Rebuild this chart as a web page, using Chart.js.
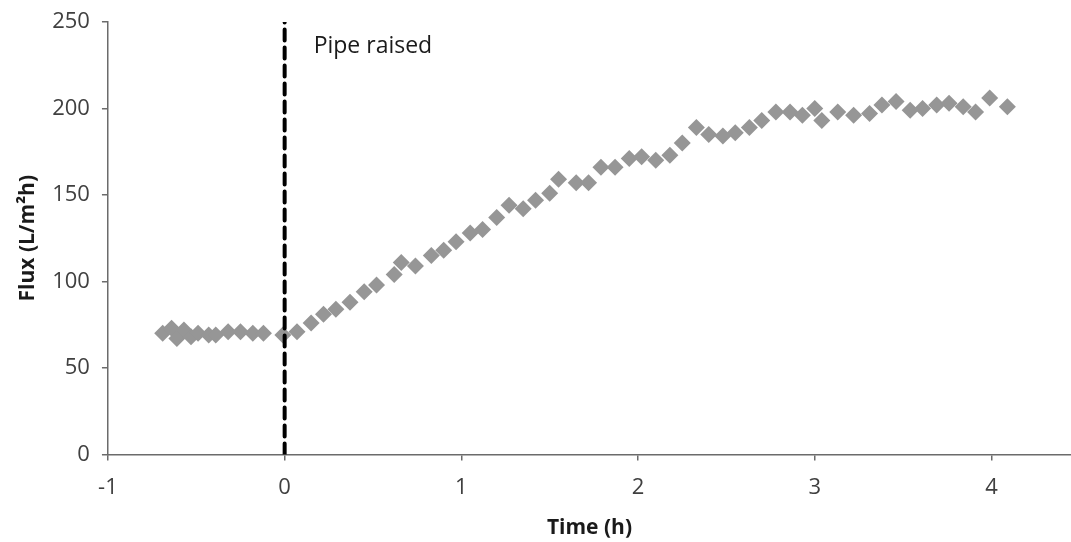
<!DOCTYPE html>
<html>
<head>
<meta charset="utf-8">
<script src="https://cdn.jsdelivr.net/npm/chart.js@4"></script>
<style>
  html, body { margin: 0; padding: 0; background: #fff; }
  #wrap { width: 1071px; height: 542px; }
</style>
</head>
<body>
<div id="wrap"><canvas id="fluxChart"></canvas></div>
<script>
// data
const timeH = [-0.69, -0.64, -0.61, -0.57, -0.53, -0.49, -0.43, -0.39, -0.32, -0.25, -0.18, -0.12, -0.01,
  0.07, 0.15, 0.22, 0.29, 0.37, 0.45, 0.52, 0.62, 0.66, 0.74, 0.83, 0.90, 0.97,
  1.05, 1.12, 1.20, 1.27, 1.35, 1.42, 1.50, 1.55, 1.65, 1.72, 1.79, 1.87, 1.95,
  2.02, 2.10, 2.18, 2.25, 2.33, 2.40, 2.48, 2.55, 2.63, 2.70, 2.78, 2.86, 2.93,
  3.00, 3.04, 3.13, 3.22, 3.31, 3.38, 3.46, 3.54, 3.61, 3.69, 3.76, 3.84, 3.91, 3.99, 4.09];
const fluxLmh = [70, 73, 67, 72, 68, 70, 69, 69, 71, 71, 70, 70, 69,
  71, 76, 81, 84, 88, 94, 98, 104, 111, 109, 115, 118, 123,
  128, 130, 137, 144, 142, 147, 151, 159, 157, 157, 166, 166, 171,
  172, 170, 173, 180, 189, 185, 184, 186, 189, 193, 198, 198, 196,
  200, 193, 198, 196, 197, 202, 204, 199, 200, 202, 203, 201, 198, 206, 201];

const pipeRaisedX = [0, 0];
const pipeRaisedY = [0, 250];
const pipeLabel = 'Pipe raised';

const xTicks = [-1, 0, 1, 2, 3, 4];
const yTicks = [0, 50, 100, 150, 200, 250];

const axisColor = '#6b6b6b';
const textColor = '#404040';
const font = "'Open Sans', 'Liberation Sans', sans-serif";

const labelPlugin = {
  id: 'pipeLabel',
  afterDatasetsDraw(chart) {
    const { ctx, scales } = chart;
    ctx.save();
    ctx.font = '23px ' + font;
    ctx.fillStyle = '#1a1a1a';
    ctx.textBaseline = 'middle';
    ctx.fillText(pipeLabel, scales.x.getPixelForValue(0) + 29, scales.y.getPixelForValue(236));
    ctx.restore();
  }
};

const ctx = document.getElementById('fluxChart').getContext('2d');
new Chart(ctx, {
  type: 'scatter',
  data: {
    datasets: [{
      label: 'Pipe raised',
      data: pipeRaisedX.map((x, i) => ({ x: x, y: pipeRaisedY[i] })),
      showLine: true,
      borderColor: '#000',
      borderWidth: 4,
      borderDash: [11, 7],
      borderCapStyle: 'round',
      pointRadius: 0,
      order: 0
    }, {
      label: 'Flux',
      data: timeH.map((t, i) => ({ x: t, y: fluxLmh[i] })),
      pointStyle: 'rectRot',
      pointRadius: 8.5,
      pointHoverRadius: 8.5,
      backgroundColor: '#969696',
      borderWidth: 0,
      order: 1
    }]
  },
  options: {
    responsive: true,
    maintainAspectRatio: false,
    animation: false,
    layout: { autoPadding: false, padding: { top: 0, right: 0, left: 6, bottom: 1 } },
    plugins: {
      legend: { display: false },
      tooltip: { enabled: false }
    },
    scales: {
      x: {
        type: 'linear',
        min: -1,
        max: 4.45,
        afterBuildTicks: (axis) => { axis.ticks = xTicks.map(v => ({ value: v })); },
        border: { color: axisColor, width: 1.5 },
        grid: { drawOnChartArea: false, tickLength: 6, color: axisColor, lineWidth: 1.5 },
        ticks: { color: textColor, font: { family: font, size: 22, lineHeight: 1.15 }, padding: 15 },
        title: { display: true, text: 'Time (h)', color: '#1a1a1a', font: { family: font, size: 21, weight: 'bold' }, padding: { top: 0, bottom: 0 } }
      },
      y: {
        min: 0,
        max: 250,
        afterBuildTicks: (axis) => { axis.ticks = yTicks.map(v => ({ value: v })); },
        border: { color: axisColor, width: 1.5 },
        grid: { drawOnChartArea: false, tickLength: 6, color: axisColor, lineWidth: 1.5 },
        ticks: { color: textColor, font: { family: font, size: 22, lineHeight: 0.9 }, padding: 12 },
        title: { display: true, text: 'Flux (L/m²h)', color: '#1a1a1a', font: { family: font, size: 21, weight: 'bold' }, padding: { top: 9, bottom: 0 } }
      }
    }
  },
  plugins: [labelPlugin]
});
</script>
</body>
</html>
